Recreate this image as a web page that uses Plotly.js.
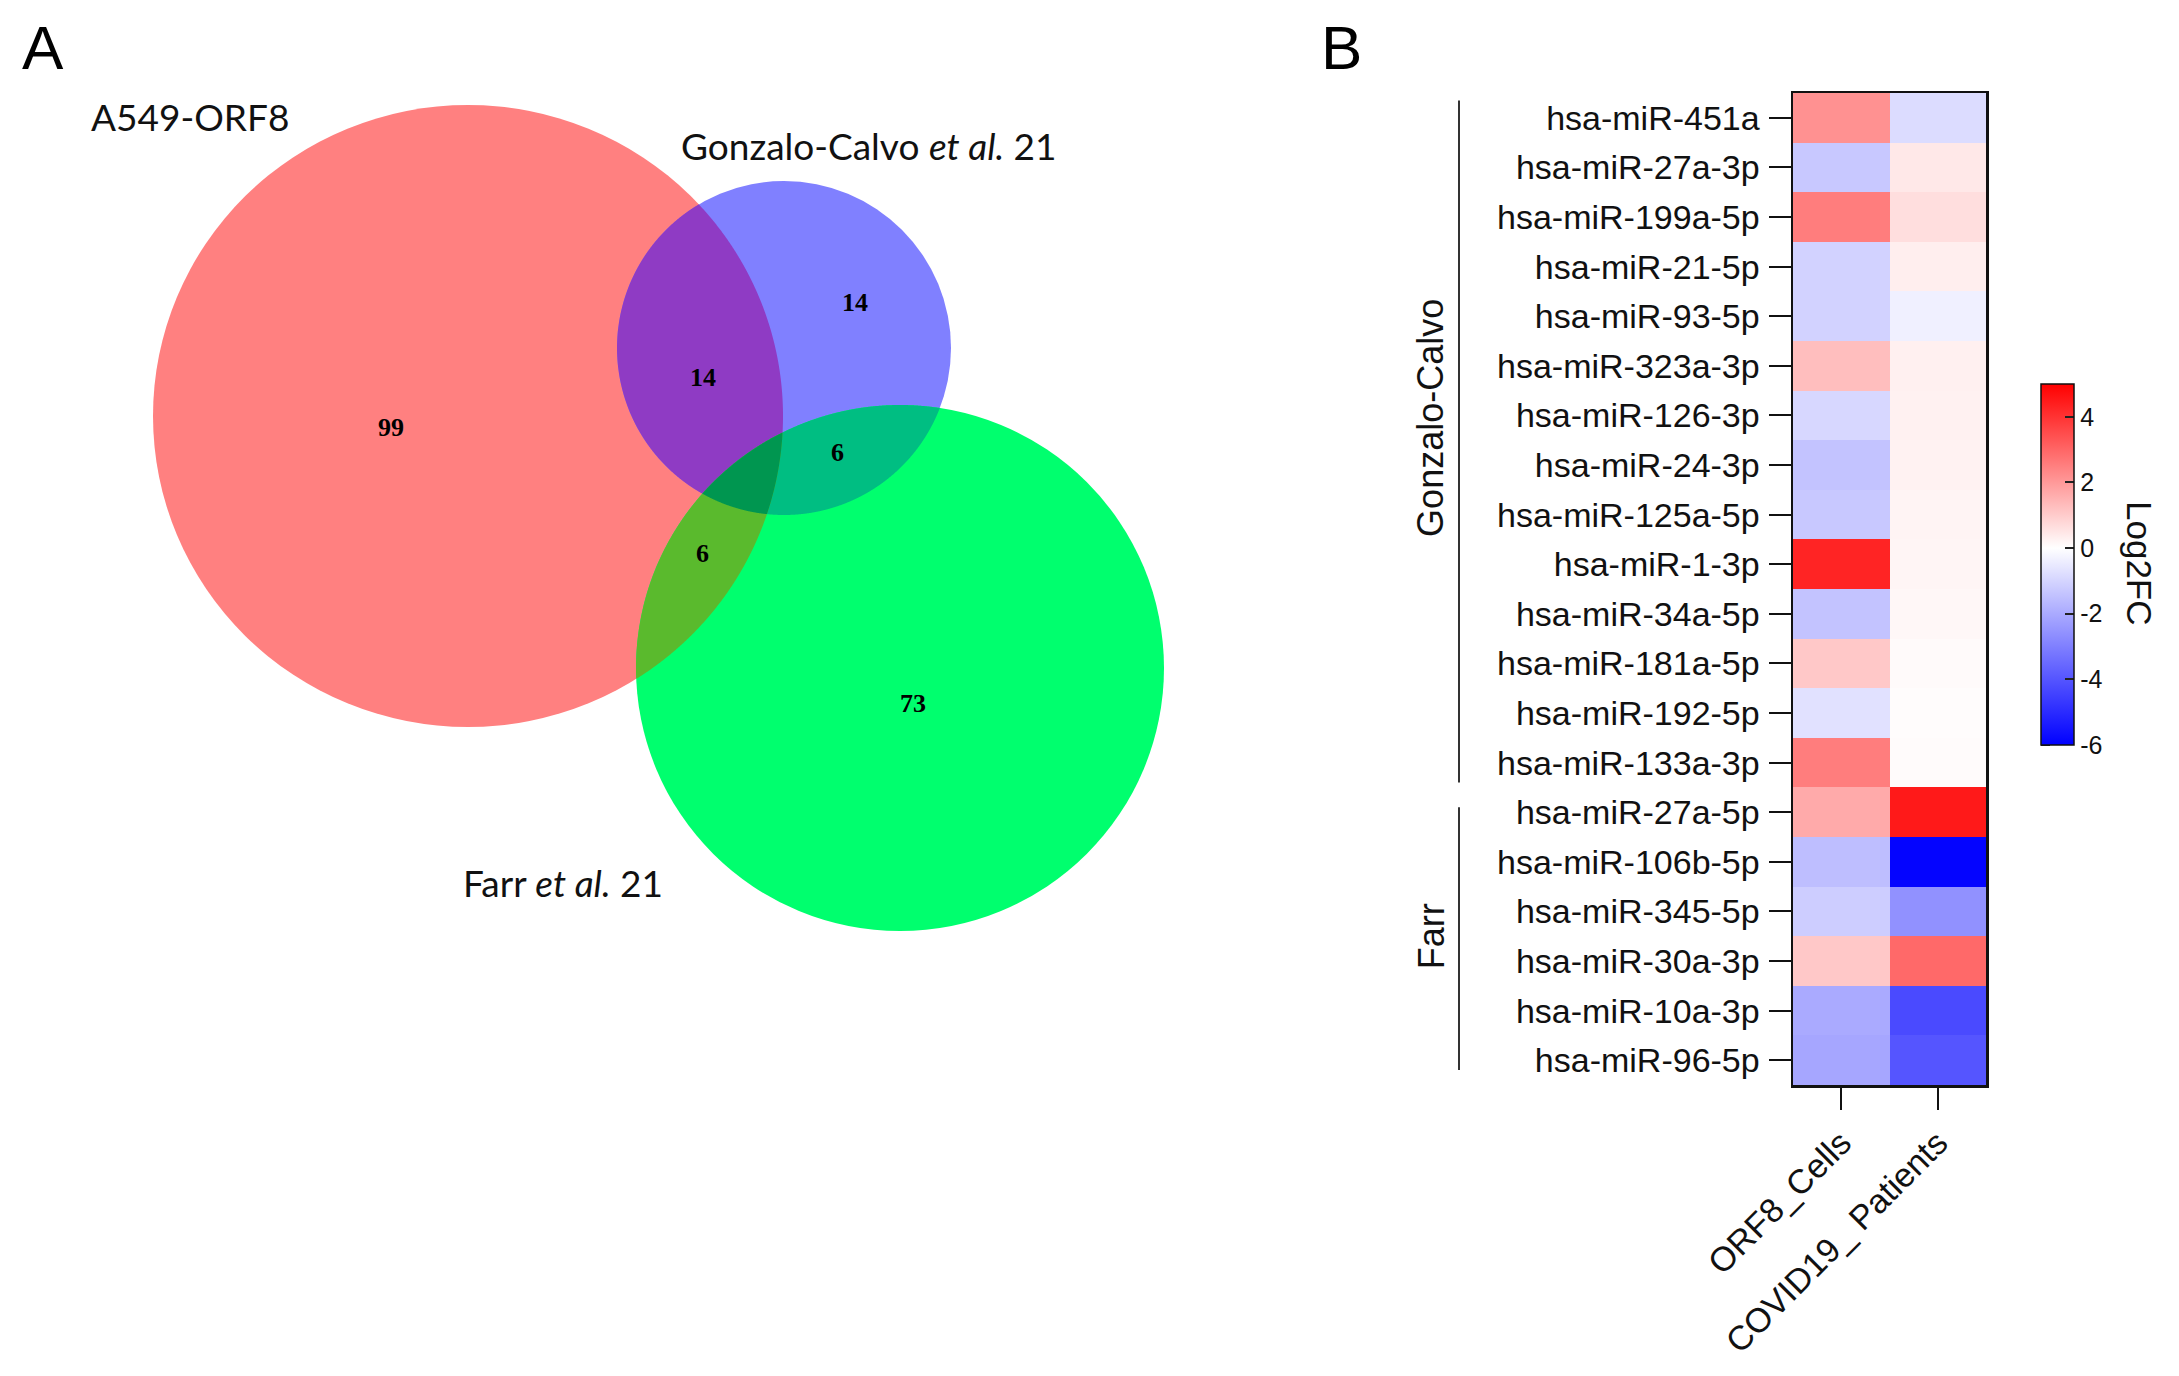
<!DOCTYPE html>
<html>
<head>
<meta charset="utf-8">
<script src="https://cdn.plot.ly/plotly-3.0.1.min.js"></script>
<style>html,body{margin:0;padding:0;background:#fff;}#chart{width:2179px;height:1376px;}</style>
</head>
<body>
<div id="chart"></div>
<script>
// ---------------- DATA ----------------
// Panel A: Venn diagram
const vennSetNames = ['A549-ORF8', 'Gonzalo-Calvo <i>et al.</i> 21', 'Farr <i>et al.</i> 21'];
const vennRegionNames = ['A549 only', 'A549 ∩ Gonzalo', 'Gonzalo only', 'Gonzalo ∩ Farr', 'A549 ∩ Farr', 'Farr only'];
const vennCounts = [99, 14, 14, 6, 6, 73];

// Panel B: heatmap
const mirnas = ['hsa-miR-451a', 'hsa-miR-27a-3p', 'hsa-miR-199a-5p', 'hsa-miR-21-5p', 'hsa-miR-93-5p',
  'hsa-miR-323a-3p', 'hsa-miR-126-3p', 'hsa-miR-24-3p', 'hsa-miR-125a-5p', 'hsa-miR-1-3p',
  'hsa-miR-34a-5p', 'hsa-miR-181a-5p', 'hsa-miR-192-5p', 'hsa-miR-133a-3p',
  'hsa-miR-27a-5p', 'hsa-miR-106b-5p', 'hsa-miR-345-5p', 'hsa-miR-30a-3p', 'hsa-miR-10a-3p', 'hsa-miR-96-5p'];
const conditions = ['ORF8_Cells', 'COVID19_ Patients'];
const orf8Cells = [2.15, -1.3, 2.55, -1.05, -1.05, 1.27, -0.94, -1.4, -1.3, 4.3,
  -1.4, 1.08, -0.7, 2.55, 1.67, -1.53, -1.18, 1.08, -2.0, -2.1];
const covidPatients = [-0.82, 0.45, 0.65, 0.33, -0.35, 0.3, 0.28, 0.25, 0.22, 0.2,
  0.15, 0.1, 0.05, 0.08, 4.5, -5.9, -2.6, 2.95, -4.25, -4.0];
const groupNames = ['Gonzalo-Calvo', 'Farr'];
const groupRanges = [[0, 13], [14, 19]];
const colorbarTicks = [-6, -4, -2, 0, 2, 4];

// ---------------- LAYOUT / STYLE ----------------
const W = 2179, H = 1376;
const px = x => x / W;
const py = y => 1 - y / H;

const vennCircles = [
  {cx: 468, cy: 416, rx: 315, ry: 311, color: '#FF8080'},
  {cx: 784, cy: 348, rx: 167, ry: 167, color: '#8080FF'},
  {cx: 900, cy: 668, rx: 264, ry: 263, color: '#00FF6E'}
];
const vennOverlaps = [
  {sets: [0, 1], color: '#8F3BC4'},
  {sets: [1, 2], color: '#00BE82'},
  {sets: [0, 2], color: '#5ABA2D'},
  {sets: [0, 1, 2], color: '#009650'}
];
const vennSetLabelPos = [[190, 116], [869, 145], [563, 882]];
const vennCountPos = [[391, 427], [703, 377], [855, 302], [837, 453], [702, 553], [913, 703]];

function inside(c, x, y) {
  const a = (x - c.cx) / c.rx, b = (y - c.cy) / c.ry;
  return a * a + b * b <= 1 + 1e-9;
}
function regionPath(sets) {
  const pts = [];
  const N = 3000;
  sets.forEach(i => {
    const c = vennCircles[i];
    for (let k = 0; k < N; k++) {
      const t = 2 * Math.PI * k / N;
      const x = c.cx + c.rx * Math.cos(t), y = c.cy + c.ry * Math.sin(t);
      if (sets.every(j => j === i || inside(vennCircles[j], x, y))) pts.push([x, y]);
    }
  });
  const mx = pts.reduce((s, p) => s + p[0], 0) / pts.length;
  const my = pts.reduce((s, p) => s + p[1], 0) / pts.length;
  pts.sort((p, q) => Math.atan2(p[1] - my, p[0] - mx) - Math.atan2(q[1] - my, q[0] - mx));
  return 'M' + pts.map(p => px(p[0]).toFixed(6) + ',' + py(p[1]).toFixed(6)).join('L') + 'Z';
}

const shapes = [];
vennCircles.forEach(c => shapes.push({
  type: 'circle', xref: 'paper', yref: 'paper',
  x0: px(c.cx - c.rx), x1: px(c.cx + c.rx), y0: py(c.cy + c.ry), y1: py(c.cy - c.ry),
  fillcolor: c.color, line: {width: 0}
}));
vennOverlaps.forEach(o => shapes.push({
  type: 'path', xref: 'paper', yref: 'paper', path: regionPath(o.sets),
  fillcolor: o.color, line: {width: 0}
}));
// group bracket lines for heatmap
const groupLineInset = [[0.15, 0.1], [0.4, 0.3]];
groupRanges.forEach((r, g) => shapes.push({
  type: 'line', xref: 'paper', yref: 'y',
  x0: px(1459), x1: px(1459), y0: r[0] - 0.5 + groupLineInset[g][0], y1: r[1] + 0.5 - groupLineInset[g][1],
  line: {color: '#333', width: 2}
}));

const annotations = [];
const vennLabelFont = {family: 'Lato, "Open Sans", sans-serif', size: 37, color: '#111'};
vennSetNames.forEach((n, i) => annotations.push({
  xref: 'paper', yref: 'paper', x: px(vennSetLabelPos[i][0]), y: py(vennSetLabelPos[i][1]),
  text: n, showarrow: false, xanchor: 'center', yanchor: 'middle', font: vennLabelFont
}));
vennCounts.forEach((v, i) => annotations.push({
  xref: 'paper', yref: 'paper', x: px(vennCountPos[i][0]), y: py(vennCountPos[i][1]),
  text: '<b>' + v + '</b>', showarrow: false, xanchor: 'center', yanchor: 'middle',
  font: {family: '"Liberation Serif", "DejaVu Serif", serif', size: 26, color: '#000'}
}));
// panel letters
[['A', 43], ['B', 1341]].forEach(p => annotations.push({
  xref: 'paper', yref: 'paper', x: px(p[1]), y: py(48), text: p[0], showarrow: false,
  xanchor: 'center', yanchor: 'middle',
  font: {family: '"Liberation Sans", Arial, sans-serif', size: 62, color: '#000'}
}));
// group labels
groupNames.forEach((g, i) => annotations.push({
  xref: 'paper', yref: 'y', x: px(1431), y: (groupRanges[i][0] + groupRanges[i][1]) / 2 - (i === 0 ? 0.45 : 0),
  text: g, textangle: -90, showarrow: false, xanchor: 'center', yanchor: 'middle',
  font: {family: '"Liberation Sans", Arial, sans-serif', size: 36, color: '#111'}
}));
// colorbar title
annotations.push({
  xref: 'paper', yref: 'paper', x: px(2140), y: py(563), text: 'Log2FC', textangle: 90,
  showarrow: false, xanchor: 'center', yanchor: 'middle',
  font: {family: '"Liberation Sans", Arial, sans-serif', size: 35, color: '#111'}
});

const z = mirnas.map((_, i) => [orf8Cells[i], covidPatients[i]]);
const zmin = -6, zmax = 5;
const mid = (0 - zmin) / (zmax - zmin);

// colorbar geometry
const cbLeft = 2041, cbThick = 33, cbCenterY = 564.5, cbLen = 361;
// left-side inner tick marks on the colorbar (mirroring the right-side ones)
colorbarTicks.forEach(v => {
  const yy = cbCenterY + cbLen / 2 - (v - zmin) / (zmax - zmin) * cbLen;
  shapes.push({
    type: 'line', xref: 'paper', yref: 'paper',
    x0: px(cbLeft), x1: px(cbLeft + 9), y0: py(yy), y1: py(yy),
    line: {color: '#222', width: 2}
  });
});

const trace = {
  type: 'heatmap', x: conditions, y: mirnas, z: z,
  zmin: zmin, zmax: zmax,
  colorscale: [[0, 'rgb(0,0,255)'], [mid, 'rgb(255,255,255)'], [1, 'rgb(255,0,0)']],
  hoverongaps: false,
  colorbar: {
    x: px(cbLeft), xanchor: 'left', xpad: 0, ypad: 0,
    y: py(cbCenterY), yanchor: 'middle',
    thicknessmode: 'pixels', thickness: cbThick, lenmode: 'pixels', len: cbLen,
    outlinewidth: 1.5, outlinecolor: '#111',
    tickmode: 'array', tickvals: colorbarTicks, ticktext: colorbarTicks.map(String),
    ticks: 'inside', ticklen: 9, tickwidth: 2, tickcolor: '#222',
    tickfont: {family: '"Liberation Sans", Arial, sans-serif', size: 25, color: '#111'}
  }
};

const layout = {
  width: W, height: H,
  margin: {l: 0, r: 0, t: 0, b: 0},
  paper_bgcolor: '#fff', plot_bgcolor: '#fff',
  showlegend: false,
  xaxis: {
    domain: [px(1793), px(1986)], type: 'category', tickangle: -45,
    ticks: 'outside', ticklen: 22, tickwidth: 2, tickcolor: '#111',
    showline: true, mirror: true, linecolor: '#111', linewidth: 2.5,
    showgrid: false, zeroline: false, automargin: false,
    tickfont: {family: '"Liberation Sans", Arial, sans-serif', size: 34, color: '#111'}
  },
  yaxis: {
    domain: [py(1085), py(93)], type: 'category', autorange: 'reversed',
    ticks: 'outside', ticklen: 22, tickwidth: 2, tickcolor: '#111', ticklabelstandoff: 2,
    showline: true, mirror: true, linecolor: '#111', linewidth: 2.5,
    showgrid: false, zeroline: false, automargin: false,
    tickfont: {family: '"Liberation Sans", Arial, sans-serif', size: 34, color: '#111'}
  },
  shapes: shapes,
  annotations: annotations
};

Plotly.newPlot('chart', [trace], layout, {displayModeBar: false, staticPlot: true});
</script>
</body>
</html>
